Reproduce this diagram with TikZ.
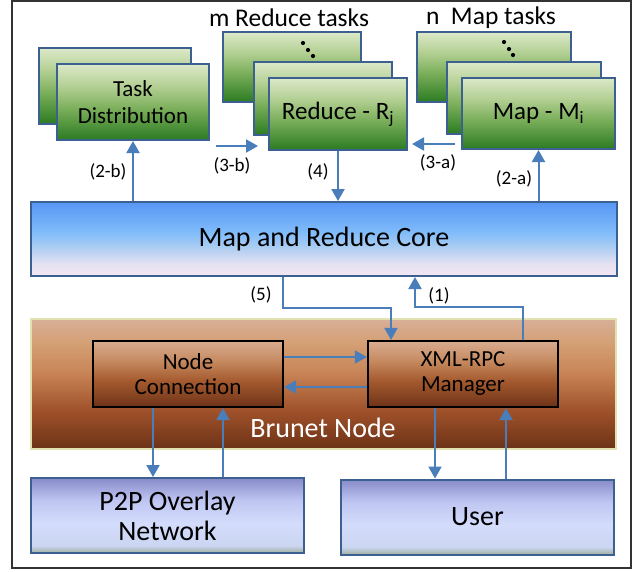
\documentclass[tikz,border=0pt]{standalone}
\usepackage{fontspec}
\setmainfont{Carlito}
\usetikzlibrary{arrows.meta,calc}

\definecolor{arrowblue}{HTML}{4A7EBB}
\definecolor{boxedge}{HTML}{3C6090}
\definecolor{brunetedge}{HTML}{E2E2AE}
\definecolor{frameedge}{HTML}{333333}

% vertical shadings: 25bp = bottom of the path, 75bp = top
\pgfdeclareverticalshading{greensh}{100bp}{%
  color(0bp)=(rgb,255:red,43;green,123;blue,34);
  color(25bp)=(rgb,255:red,43;green,123;blue,34);
  color(45bp)=(rgb,255:red,120;green,173;blue,88);
  color(60bp)=(rgb,255:red,178;green,207;blue,146);
  color(75bp)=(rgb,255:red,220;green,233;blue,201);
  color(100bp)=(rgb,255:red,220;green,233;blue,201)}
\pgfdeclareverticalshading{coresh}{100bp}{%
  color(0bp)=(rgb,255:red,242;green,230;blue,244);
  color(25bp)=(rgb,255:red,242;green,230;blue,244);
  color(33bp)=(rgb,255:red,230;green,226;blue,242);
  color(45bp)=(rgb,255:red,169;green,204;blue,242);
  color(55bp)=(rgb,255:red,127;green,187;blue,250);
  color(75bp)=(rgb,255:red,88;green,150;blue,245);
  color(100bp)=(rgb,255:red,88;green,150;blue,245)}
\pgfdeclareverticalshading{brunetsh}{100bp}{%
  color(0bp)=(rgb,255:red,108;green,50;blue,23);
  color(25bp)=(rgb,255:red,108;green,50;blue,23);
  color(40bp)=(rgb,255:red,160;green,82;blue,42);
  color(55bp)=(rgb,255:red,201;green,134;blue,88);
  color(65bp)=(rgb,255:red,211;green,158;blue,114);
  color(75bp)=(rgb,255:red,216;green,175;blue,152);
  color(100bp)=(rgb,255:red,216;green,175;blue,152)}
\pgfdeclareverticalshading{modsh}{100bp}{%
  color(0bp)=(rgb,255:red,110;green,51;blue,24);
  color(25bp)=(rgb,255:red,110;green,51;blue,24);
  color(45bp)=(rgb,255:red,165;green,90;blue,46);
  color(60bp)=(rgb,255:red,198;green,138;blue,96);
  color(75bp)=(rgb,255:red,216;green,172;blue,144);
  color(100bp)=(rgb,255:red,216;green,172;blue,144)}
\pgfdeclareverticalshading{lavsh}{100bp}{%
  color(0bp)=(rgb,255:red,160;green,174;blue,158);
  color(25bp)=(rgb,255:red,160;green,174;blue,158);
  color(30bp)=(rgb,255:red,203;green,214;blue,242);
  color(45bp)=(rgb,255:red,211;green,220;blue,251);
  color(60bp)=(rgb,255:red,191;green,198;blue,242);
  color(75bp)=(rgb,255:red,135;green,139;blue,201);
  color(100bp)=(rgb,255:red,135;green,139;blue,201)}

\tikzset{
  taskbox/.style={draw=boxedge, line width=2pt, shading=greensh, inner sep=0pt,
    align=center, text=black},
  corebox/.style={draw=boxedge, line width=2pt, shading=coresh, inner sep=0pt},
  brunetbox/.style={draw=brunetedge, line width=2pt, shading=brunetsh, inner sep=0pt},
  modbox/.style={draw=black, line width=2.2pt, shading=modsh, inner sep=0pt,
    align=center, font=\fontsize{23}{25}\selectfont},
  extbox/.style={draw=boxedge, line width=2pt, shading=lavsh, inner sep=0pt,
    align=center, font=\fontsize{28}{30}\selectfont},
  arr/.style={draw=arrowblue, line width=2pt,
    -{Triangle[length=12pt,width=13pt]}},
  steplabel/.style={font=\fontsize{19}{21}\selectfont, inner sep=0pt},
  titlelabel/.style={font=\fontsize{25.5}{27}\selectfont, inner sep=0pt},
  dotmark/.style={fill=black, draw=none},
}

\begin{document}
\begin{tikzpicture}[x=1pt, y=-1pt]
  \useasboundingbox (0,0) rectangle (636,571);
  \fill[white] (0,0) rectangle (636,571);
  % outer frame
  \draw[frameedge, line width=1.5pt] (12,1) rectangle (631,568);

  % titles of the task stacks
  \node[titlelabel] (rtitle) at (289,18) {m Reduce tasks};
  \node[titlelabel] (mtitle) at (491,18) {n\ \ Map tasks};

  % task distribution stack
  \node[taskbox, minimum width=152pt, minimum height=76pt] (tdb) at (115,86) {};
  \node[taskbox, minimum width=152pt, minimum height=76pt,
        font=\fontsize{23}{27}\selectfont] (tdf) at (133,102) {Task\\Distribution};

  % reduce stack
  \node[taskbox, minimum width=138pt, minimum height=70pt] (redb) at (292,67) {};
  \fill[dotmark] (303,43) circle (2.1pt) (308,50) circle (2.1pt) (313,56) circle (2.1pt);
  \node[taskbox, minimum width=138pt, minimum height=73pt] (redm) at (323,98.5) {};
  \node[taskbox, minimum width=138pt, minimum height=72pt,
        font=\fontsize{25}{27}\selectfont] (redf) at (338,114) {Reduce - R\textsubscript{j}};

  % map stack
  \node[taskbox, minimum width=154pt, minimum height=70pt] (mapb) at (494,67) {};
  \fill[dotmark] (504,42) circle (2.1pt) (509,49) circle (2.1pt) (513,55) circle (2.1pt);
  \node[taskbox, minimum width=154pt, minimum height=72pt] (mapm) at (524,98) {};
  \node[taskbox, minimum width=153pt, minimum height=71pt,
        font=\fontsize{25}{27}\selectfont] (mapf) at (538.5,113.5) {Map - M\textsubscript{i}};

  % core
  \node[corebox, minimum width=586pt, minimum height=74pt,
        font=\fontsize{28}{30}\selectfont] (core) at (324,239) {Map and Reduce Core};

  % brunet node with its two modules
  \node[brunetbox, minimum width=585pt, minimum height=130pt] (brunet) at (323.5,384) {};
  \node[font=\fontsize{28}{30}\selectfont, text=white, inner sep=0pt] (brunetlbl)
        at (323,428) {Brunet Node};
  \node[modbox, minimum width=190pt, minimum height=66pt] (nc) at (188,374) {Node\\Connection};
  \node[modbox, minimum width=190pt, minimum height=66pt] (xml) at (463,374) {XML-RPC\\Manager};

  % external boxes
  \node[extbox, minimum width=273pt, minimum height=75pt] (p2p) at (167.5,515.5) {P2P Overlay\\Network};
  \node[extbox, minimum width=273pt, minimum height=75pt] (user) at (477.5,517) {User};

  % connectors between the task stacks and the core
  \draw[arr] (core.north -| tdf.south) -- (tdf.south);
  \draw[arr] (core.north -| mapf.south) -- (mapf.south);
  \draw[arr] (redf.south) -- (core.north -| redf.south);
  \coordinate (b3s) at (216,146);
  \coordinate (b3e) at (258,146);
  \draw[arr] (b3s) -- (b3e);
  \coordinate (a3s) at (455,144);
  \coordinate (a3e) at (412,144);
  \draw[arr] (a3s) -- (a3e);

  % core <-> XML-RPC manager
  \draw[arr] ([xshift=-41pt]core.south) |- ([xshift=-72pt,yshift=32pt]xml.north)
             -- ([xshift=-72pt]xml.north);
  \draw[arr] ([xshift=60pt]xml.north) -- ++(0,-33) -| ([xshift=91pt]core.south);

  % inside the brunet node
  \draw[arr] ([yshift=17pt]nc.east) -- ([yshift=17pt]nc.east -| xml.west);
  \draw[arr] ([yshift=-13pt]xml.west) -- ([yshift=-13pt]xml.west -| nc.east);

  % to the overlay network and the user
  \draw[arr] ([xshift=-35pt]nc.south) -- ([xshift=-35pt]nc.south |- p2p.north);
  \draw[arr] ([xshift=35pt]nc.south |- p2p.north) -- ([xshift=35pt]nc.south);
  \draw[arr] ([xshift=-28pt]xml.south) -- ([xshift=-28pt]xml.south |- user.north);
  \draw[arr] ([xshift=43pt]xml.south |- user.north) -- ([xshift=43pt]xml.south);

  % step labels
  \node[steplabel] (l2b) at (108,172) {(2-b)};
  \node[steplabel] (l3b) at (232,166) {(3-b)};
  \node[steplabel] (l4)  at (318,172) {(4)};
  \node[steplabel] (l3a) at (438,163) {(3-a)};
  \node[steplabel] (l2a) at (514,179) {(2-a)};
  \node[steplabel] (l5)  at (261,295) {(5)};
  \node[steplabel] (l1)  at (439,296) {(1)};
\end{tikzpicture}
\end{document}
